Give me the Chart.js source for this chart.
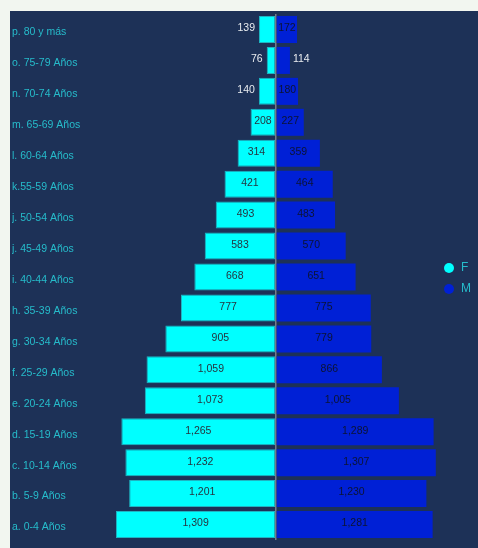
<!DOCTYPE html>
<html lang="es">
<head>
<meta charset="utf-8">
<title>Pirámide poblacional</title>
<script src="https://cdn.jsdelivr.net/npm/chart.js@4.4.1/dist/chart.umd.min.js"></script>
<style>
    html, body { margin: 0; padding: 0; }
    body {
        width: 478px; height: 548px; overflow: hidden;
        background: #f2f6f0;
        font-family: "Liberation Sans", Arial, sans-serif;
        position: relative;
    }
    .panel {
        position: absolute; left: 10px; top: 11px;
        width: 468px; height: 537px;
        background: #1d3157;
    }
</style>
</head>
<body>
<div class="panel">
    <canvas id="pyramidChart" width="468" height="537"></canvas>
</div>
<script>
// Grupos de edad (de arriba hacia abajo)
const grupos = [
    'p. 80 y más', 'o. 75-79 Años', 'n. 70-74 Años', 'm. 65-69 Años',
    'l. 60-64 Años', 'k.55-59 Años', 'j. 50-54 Años', 'j. 45-49 Años',
    'i. 40-44 Años', 'h. 35-39 Años', 'g. 30-34 Años', 'f. 25-29 Años',
    'e. 20-24 Años', 'd. 15-19 Años', 'c. 10-14 Años', 'b. 5-9 Años',
    'a. 0-4 Años'
];

// Población femenina y masculina por grupo
const mujeres = [139, 76, 140, 208, 314, 421, 493, 583, 668, 777, 905, 1059, 1073, 1265, 1232, 1201, 1309];
const hombres = [172, 114, 180, 227, 359, 464, 483, 570, 651, 775, 779, 866, 1005, 1289, 1307, 1230, 1281];

const seriesNombres = ['F', 'M'];

const COLOR_F = '#00ffff';
const COLOR_M = '#0020d6';
const COLOR_TEXTO = '#26bccb';

const fmt = new Intl.NumberFormat('en-US');

// --- etiquetas de valor sobre cada barra ---
const valorBarras = {
    id: 'valorBarras',
    afterDatasetsDraw(chart) {
        const ctx = chart.ctx;
        ctx.save();
        ctx.font = '10.5px "Liberation Sans", Arial, sans-serif';
        ctx.textBaseline = 'middle';
        chart.data.datasets.forEach((ds, di) => {
            const meta = chart.getDatasetMeta(di);
            meta.data.forEach((bar, i) => {
                const texto = fmt.format(Math.abs(ds.data[i]));
                const ancho = Math.abs(bar.x - bar.base);
                const tw = ctx.measureText(texto).width;
                const y = bar.y - 1;
                if (tw <= ancho) {
                    ctx.textAlign = 'center';
                    ctx.fillStyle = di === 0 ? '#26343f' : '#0c1433';
                    ctx.fillText(texto, (bar.x + bar.base) / 2, y);
                } else if (di === 0) {
                    ctx.textAlign = 'right';
                    ctx.fillStyle = '#e9ecef';
                    ctx.fillText(texto, bar.x - 4, y);
                } else {
                    ctx.textAlign = 'left';
                    ctx.fillStyle = '#e9ecef';
                    ctx.fillText(texto, bar.x + 3, y);
                }
            });
        });
        ctx.restore();
    }
};

// --- leyenda con círculos a la derecha ---
const leyenda = {
    id: 'leyenda',
    afterDraw(chart) {
        const ctx = chart.ctx;
        ctx.save();
        ctx.font = '12px "Liberation Sans", Arial, sans-serif';
        ctx.textBaseline = 'middle';
        ctx.textAlign = 'left';
        chart.data.datasets.forEach((ds, i) => {
            const y = 257 + i * 21;
            ctx.beginPath();
            ctx.arc(439, y, 5, 0, Math.PI * 2);
            ctx.fillStyle = ds.backgroundColor;
            ctx.fill();
            ctx.fillStyle = COLOR_TEXTO;
            ctx.fillText(ds.label, 451, y);
        });
        ctx.restore();
    }
};

const ctx = document.getElementById('pyramidChart').getContext('2d');

new Chart(ctx, {
    type: 'bar',
    data: {
        labels: grupos,
        datasets: [
            {
                label: seriesNombres[0],
                data: mujeres.map(v => -v),
                backgroundColor: COLOR_F,
                borderColor: '#1fb4c2',
                borderWidth: 1,
                borderSkipped: false
            },
            {
                label: seriesNombres[1],
                data: hombres,
                backgroundColor: COLOR_M,
                borderWidth: 0
            }
        ]
    },
    options: {
        indexAxis: 'y',
        responsive: false,
        animation: false,
        barPercentage: 0.873,
        categoryPercentage: 1,
        layout: { padding: { top: 3, bottom: 8, left: 2, right: 40 } },
        plugins: {
            legend: { display: false },
            tooltip: { enabled: false }
        },
        scales: {
            x: {
                stacked: true,
                min: -1325,
                max: 1325,
                z: 1,
                ticks: { display: false },
                border: { display: false },
                grid: {
                    drawTicks: false,
                    lineWidth: 1.5,
                    color: c => (c.tick && c.tick.value === 0) ? '#767c8a' : 'rgba(0,0,0,0)'
                },
                afterFit: scale => { scale.height = 0; }
            },
            y: {
                stacked: true,
                grid: { display: false },
                border: { display: false },
                ticks: {
                    color: COLOR_TEXTO,
                    crossAlign: 'far',
                    labelOffset: 3,
                    font: { family: '"Liberation Sans", Arial, sans-serif', size: 10.5 }
                },
                afterFit: scale => {
                    scale.width = 102;
                    scale.paddingTop = 0;
                    scale.paddingBottom = 0;
                }
            }
        }
    },
    plugins: [valorBarras, leyenda]
});
</script>
</body>
</html>
